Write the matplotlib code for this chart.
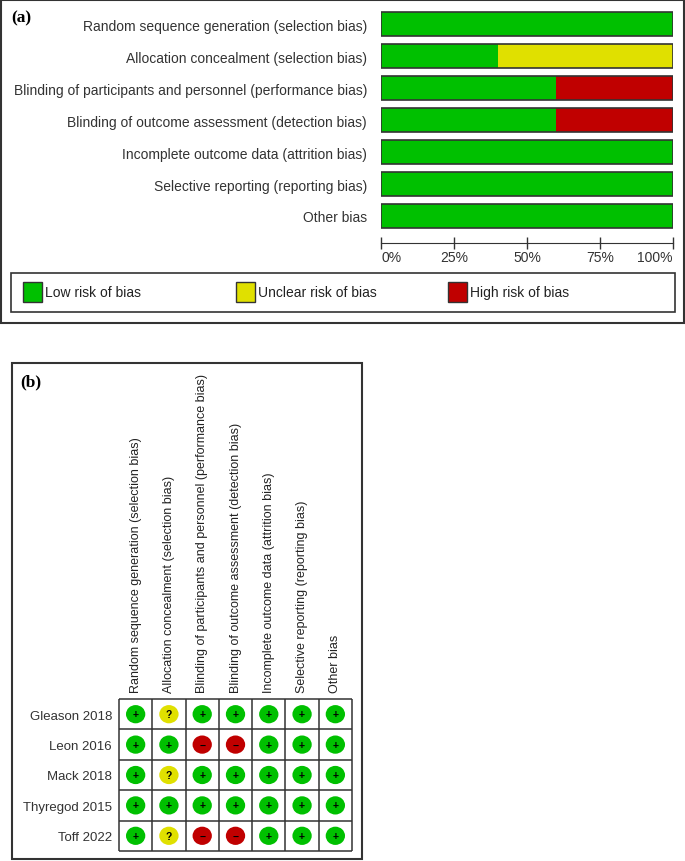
import matplotlib
matplotlib.use("Agg")
import matplotlib.pyplot as plt
from matplotlib.patches import Rectangle, Ellipse

W, H = 685, 862

domains = [
    "Random sequence generation (selection bias)",
    "Allocation concealment (selection bias)",
    "Blinding of participants and personnel (performance bias)",
    "Blinding of outcome assessment (detection bias)",
    "Incomplete outcome data (attrition bias)",
    "Selective reporting (reporting bias)",
    "Other bias",
]
studies = ["Gleason 2018", "Leon 2016", "Mack 2018", "Thyregod 2015", "Toff 2022"]

# judgement per study, one entry per domain: + low, ? unclear, - high
judgements = {
    "Gleason 2018":  ["+", "?", "+", "+", "+", "+", "+"],
    "Leon 2016":     ["+", "+", "-", "-", "+", "+", "+"],
    "Mack 2018":     ["+", "?", "+", "+", "+", "+", "+"],
    "Thyregod 2015": ["+", "+", "+", "+", "+", "+", "+"],
    "Toff 2022":     ["+", "?", "-", "-", "+", "+", "+"],
}

pct_ticks = [0, 25, 50, 75, 100]
pct_labels = ["0%", "25%", "50%", "75%", "100%"]
legend_labels = ["Low risk of bias", "Unclear risk of bias", "High risk of bias"]

GREEN = "#00c000"
YELLOW = "#e0e000"
RED = "#c00000"
EDGE = "#333333"
colour = {"+": GREEN, "?": YELLOW, "-": RED}
symbol = {"+": "+", "?": "?", "-": "\u2212"}

SANS = ["Liberation Sans", "DejaVu Sans"]
SERIF = ["Liberation Serif", "DejaVu Serif"]
plt.rcParams["font.family"] = SANS


def px_box(x0, y0, x1, y1):
    # pixel box (top-left origin) -> figure fraction rect
    return [x0 / W, 1 - y1 / H, (x1 - x0) / W, (y1 - y0) / H]


fig = plt.figure(figsize=(W / 100, H / 100), dpi=100)

# background overlay in pixel coordinates for frames and legend
bg = fig.add_axes([0, 0, 1, 1])
bg.set_xlim(0, W)
bg.set_ylim(H, 0)
bg.axis("off")

bg.add_patch(Rectangle((1, 1), 683, 323, fill=False, ec=EDGE, lw=1.5))
bg.add_patch(Rectangle((12, 364), 350, 496, fill=False, ec=EDGE, lw=1.5))
bg.text(11, 18, "(a)", family=SERIF, weight="bold", fontsize=12.5, va="center")
bg.text(20, 382, "(b)", family=SERIF, weight="bold", fontsize=12.5, va="center")

# legend of panel (a)
bg.add_patch(Rectangle((11, 274), 664, 39, fill=False, ec=EDGE, lw=1.2))
for x, lab, c in zip([23, 236, 448], legend_labels, [GREEN, YELLOW, RED]):
    bg.add_patch(Rectangle((x, 283), 19, 20, fc=c, ec=EDGE, lw=1))
    bg.text(x + 22, 293.5, lab, fontsize=10, va="center", color="#222222")

# ---- panel (a): summary bars
n = len(studies)
low = [sum(judgements[s][i] == "+" for s in studies) / n * 100 for i in range(len(domains))]
unclear = [sum(judgements[s][i] == "?" for s in studies) / n * 100 for i in range(len(domains))]
high = [sum(judgements[s][i] == "-" for s in studies) / n * 100 for i in range(len(domains))]

ax = fig.add_axes(px_box(381, 9, 673, 233))
ypos = list(range(len(domains)))
ax.barh(ypos, low, height=0.75, color=GREEN, lw=0)
ax.barh(ypos, unclear, left=low, height=0.75, color=YELLOW, lw=0)
ax.barh(ypos, high, left=[a + b for a, b in zip(low, unclear)], height=0.75, color=RED, lw=0)
ax.barh(ypos, [a + b + c for a, b, c in zip(low, unclear, high)], height=0.75,
        fill=False, ec=EDGE, lw=1.2)
ax.set_xlim(0, 100)
ax.set_ylim(len(domains) - 0.5, -0.5)
ax.tick_params(axis="y", length=0, pad=10)
ax.tick_params(axis="x", direction="inout", length=8, width=1, color=EDGE,
               labelbottom=False)
ax.set_yticks(ypos)
ax.set_yticklabels(domains, fontsize=10, color="#333333")
ax.set_xticks(pct_ticks)
# percent labels: first one left-aligned, last one right-aligned, like RevMan
for i, (t, lab) in enumerate(zip(pct_ticks, pct_labels)):
    ha = "left" if i == 0 else ("right" if i == len(pct_ticks) - 1 else "center")
    ax.text(t, -25 / 224, lab, transform=ax.get_xaxis_transform(), ha=ha,
            va="center", fontsize=10, color="#333333")
for side in ["top", "left", "right"]:
    ax.spines[side].set_visible(False)
ax.spines["bottom"].set_position(("outward", 8))
ax.spines["bottom"].set_color(EDGE)
ax.patch.set_alpha(0)

# ---- panel (b): traffic-light grid
axb = fig.add_axes(px_box(119, 700, 352, 852))
ncol = len(domains)
axb.set_xlim(0, ncol)
axb.set_ylim(n, 0)
for r, s in enumerate(studies):
    for c, j in enumerate(judgements[s]):
        axb.add_patch(Ellipse((c + 0.5, r + 0.5), 0.58, 0.6, fc=colour[j], ec="none"))
        axb.text(c + 0.5, r + 0.5, symbol[j], ha="center", va="center",
                 fontsize=7.5, weight="bold", color="black")
axb.vlines(range(ncol + 1), 0, n, color=EDGE, lw=1.1, clip_on=False)
axb.hlines(range(n + 1), 0, ncol, color=EDGE, lw=1.1, clip_on=False)
axb.tick_params(length=0)
axb.tick_params(axis="x", pad=5)
axb.tick_params(axis="y", pad=5)
axb.xaxis.tick_top()
axb.set_xticks([c + 0.5 for c in range(ncol)])
axb.set_xticklabels(domains, rotation=90, fontsize=9, color="#222222")
axb.set_yticks([r + 0.5 for r in range(n)])
axb.set_yticklabels(studies, fontsize=9.5, color="#333333")
for sp in axb.spines.values():
    sp.set_visible(False)

fig.savefig("out.png", dpi=100)
